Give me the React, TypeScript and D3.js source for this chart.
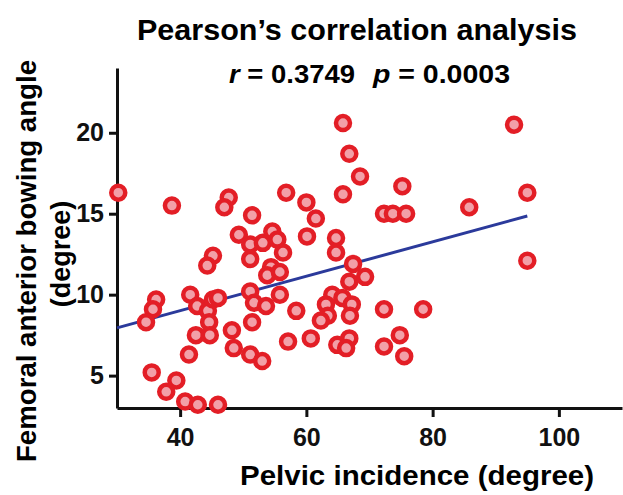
import React, {useEffect, useRef} from 'react'
import * as d3 from 'd3';

// pelvic incidence (x) vs femoral anterior bowing angle (y)
const pelvicIncidence = [
    30.2, 38.7, 47.7, 47.0, 51.4, 49.3, 51.1, 53.1, 54.6, 55.4,
    56.3, 56.8, 45.2, 51.1, 65.8, 66.8, 68.5, 65.8, 75.2, 60.0,
    61.5, 72.3, 73.7, 75.8, 85.8, 60.1, 64.7, 64.7, 67.4, 92.9,
    95.0, 95.0, 44.3, 54.4, 53.8, 55.8, 36.2, 35.7, 34.6, 41.6,
    42.7, 44.4, 45.2, 46.0, 44.6, 42.5, 44.7, 41.4, 48.2, 48.5,
    51.1, 53.0, 51.1, 51.7, 53.6, 51.4, 55.8, 57.1, 35.5, 39.4,
    37.8, 40.8, 42.8, 46.0, 66.8, 69.3, 64.1, 65.7, 63.1, 67.2,
    58.4, 63.4, 62.3, 66.9, 72.3, 78.5, 60.7, 66.8, 64.9, 66.3,
    72.3, 74.8, 75.5
];
const bowingAngle = [
    16.3, 15.5, 16.0, 15.4, 14.9, 13.7, 13.1, 13.2, 13.9, 13.4,
    12.6, 16.3, 12.4, 12.2, 20.6, 18.7, 17.3, 16.2, 16.7, 15.7,
    14.7, 15.0, 15.0, 15.0, 15.4, 13.6, 13.5, 12.6, 11.9, 20.5,
    16.3, 12.1, 11.8, 11.7, 11.2, 11.4, 9.7, 9.1, 8.3, 10.0,
    9.3, 9.0, 9.7, 9.8, 8.3, 7.5, 7.5, 6.3, 7.8, 6.7,
    6.3, 5.9, 10.2, 9.5, 9.3, 8.3, 10.0, 7.1, 5.2, 4.7,
    4.0, 3.4, 3.2, 3.2, 10.8, 11.1, 10.0, 9.8, 9.4, 9.4,
    9.0, 8.7, 8.4, 8.7, 9.1, 9.1, 7.3, 7.3, 6.9, 6.7,
    6.8, 7.5, 6.2
];
const xTicks = [40, 60, 80, 100];
const yTicks = [5, 10, 15, 20];
// fitted line y = slope * x + intercept, drawn over the data range
const fitSlope = 0.1063;
const fitIntercept = 4.76;
const fitRange = [30, 95];

export default function App(){
    const svgRef = useRef(null);

    const width = 623;
    const height = 495;

    useEffect(() => {
        const svg = d3.select(svgRef.current);
        svg.selectAll('*').remove();

        const xscale = d3.scaleLinear().domain([30, 110]).range([117, 622]);
        const yscale = d3.scaleLinear().domain([3, 24]).range([408, 68]);

        const font = 'Liberation Sans, Arial, sans-serif';

        // title + stats
        svg.append('text')
            .attr('x', 357).attr('y', 40)
            .attr('text-anchor', 'middle')
            .attr('font-family', font).attr('font-weight', 'bold')
            .attr('font-size', 29)
            .attr('textLength', 440).attr('lengthAdjust', 'spacingAndGlyphs')
            .text('Pearson\u2019s correlation analysis');

        const statR = svg.append('text')
            .attr('x', 229).attr('y', 83)
            .attr('font-family', font).attr('font-weight', 'bold')
            .attr('font-size', 25)
            .attr('textLength', 126).attr('lengthAdjust', 'spacingAndGlyphs');
        statR.append('tspan').attr('font-style', 'italic').text('r');
        statR.append('tspan').text(' = 0.3749');

        const statP = svg.append('text')
            .attr('x', 373).attr('y', 83)
            .attr('font-family', font).attr('font-weight', 'bold')
            .attr('font-size', 25)
            .attr('textLength', 137).attr('lengthAdjust', 'spacingAndGlyphs');
        statP.append('tspan').attr('font-style', 'italic').text('p');
        statP.append('tspan').text(' = 0.0003');

        // axes
        const yaxis = svg.append('g')
            .attr('transform', `translate(117,0)`)
            .call(d3.axisLeft(yscale).tickValues(yTicks).tickSize(8).tickSizeOuter(0).tickPadding(5));
        const xaxis = svg.append('g')
            .attr('transform', `translate(0,408)`)
            .call(d3.axisBottom(xscale).tickValues(xTicks).tickSize(9).tickSizeOuter(0).tickPadding(6));

        [yaxis, xaxis].forEach(ax => {
            ax.select('.domain').attr('stroke', '#111').attr('stroke-width', 3);
            ax.selectAll('.tick line').attr('stroke', '#111').attr('stroke-width', 3);
            ax.selectAll('.tick text')
                .attr('fill', '#111')
                .attr('font-family', font)
                .attr('font-weight', 'bold')
                .attr('font-size', 25);
        });
        xaxis.selectAll('.tick text').attr('dy', '0.9em');

        // axis labels
        svg.append('text')
            .attr('x', 417).attr('y', 485)
            .attr('text-anchor', 'middle')
            .attr('font-family', font).attr('font-weight', 'bold')
            .attr('font-size', 28)
            .attr('textLength', 354).attr('lengthAdjust', 'spacingAndGlyphs')
            .text('Pelvic incidence (degree)');

        svg.append('text')
            .attr('transform', 'translate(36,261) rotate(-90)')
            .attr('text-anchor', 'middle')
            .attr('font-family', font).attr('font-weight', 'bold')
            .attr('font-size', 27)
            .attr('textLength', 402).attr('lengthAdjust', 'spacingAndGlyphs')
            .text('Femoral anterior bowing angle');

        svg.append('text')
            .attr('transform', 'translate(70,254) rotate(-90)')
            .attr('text-anchor', 'middle')
            .attr('font-family', font).attr('font-weight', 'bold')
            .attr('font-size', 27)
            .text('(degree)');

        // regression line
        svg.append('line')
            .attr('x1', xscale(fitRange[0]))
            .attr('y1', yscale(fitSlope * fitRange[0] + fitIntercept))
            .attr('x2', xscale(fitRange[1]))
            .attr('y2', yscale(fitSlope * fitRange[1] + fitIntercept))
            .attr('stroke', '#2b3a9b')
            .attr('stroke-width', 3);

        // points
        const data = pelvicIncidence.map((x, i) => ({x, y: bowingAngle[i]}));
        svg.append('g')
            .selectAll('circle')
            .data(data)
            .join('circle')
            .attr('cx', d => xscale(d.x))
            .attr('cy', d => yscale(d.y))
            .attr('r', 7)
            .attr('fill', '#f2a0a8')
            .attr('stroke', '#e31e26')
            .attr('stroke-width', 4.5);
    }, []);

    return (
        <svg
            ref={svgRef}
            width={width}
            height={height}
            style={{position: 'absolute', left: 0, top: 0, background: '#fff'}}
        />
    );
}
